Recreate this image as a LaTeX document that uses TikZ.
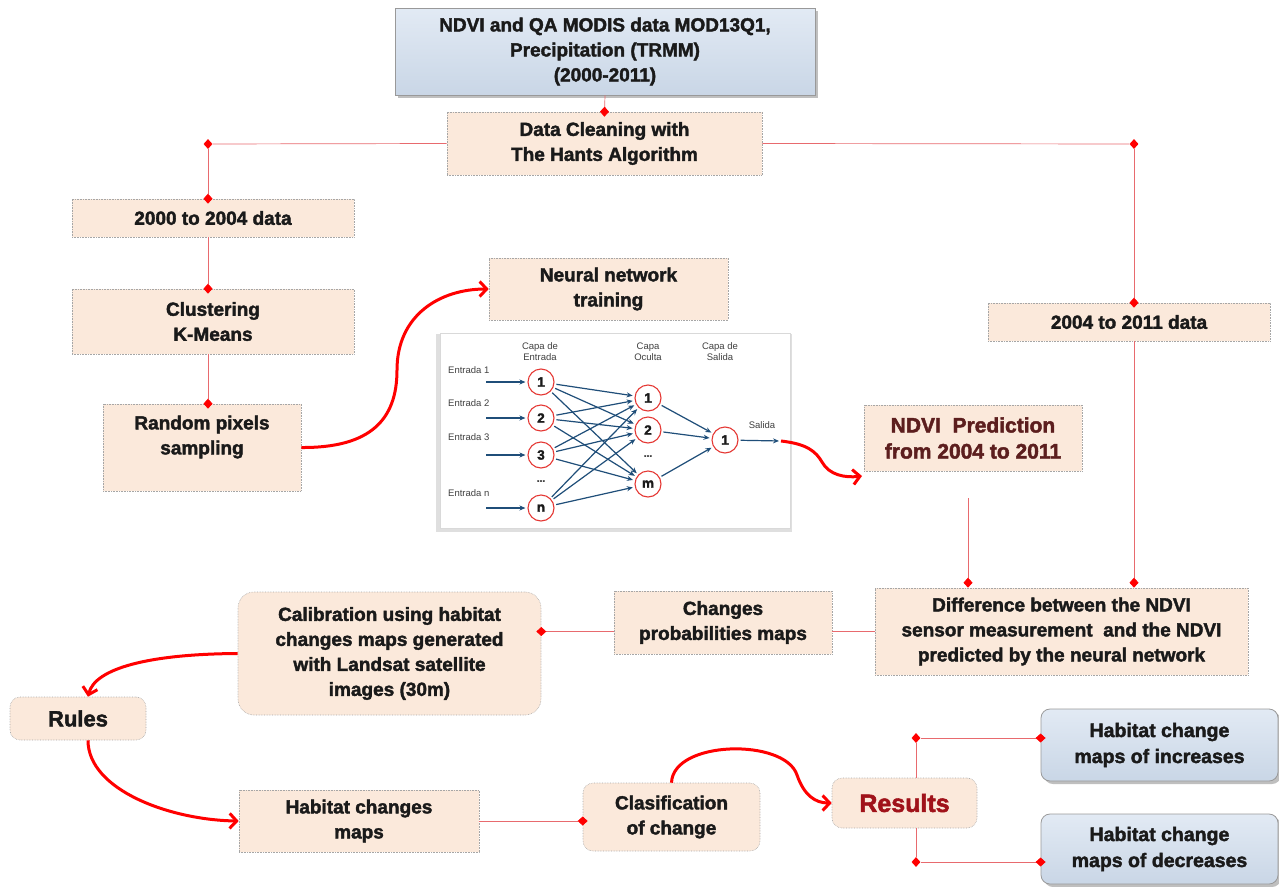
\documentclass[tikz,border=0pt]{standalone}
\usepackage{fontspec}
\setmainfont{Liberation Sans}[BoldFeatures={FakeBold=2}]
\usetikzlibrary{arrows.meta,shapes.geometric,shadows,calc}
\definecolor{peach}{HTML}{FBE9DB}
\definecolor{bluetop}{HTML}{E2EAF4}
\definecolor{bluebot}{HTML}{C9D6E6}
\definecolor{txt}{HTML}{1A1A1A}
\definecolor{nnblue}{HTML}{1F4E79}
\definecolor{conred}{HTML}{E86A6E}
\definecolor{predred}{HTML}{5C1E1E}
\definecolor{resred}{HTML}{A0121A}
\definecolor{neured}{HTML}{E53935}
\begin{document}
\begin{tikzpicture}[x=1pt,y=-1pt,
  box/.style={rectangle, fill=peach, draw=gray!70, densely dotted, line width=0.6pt, text=txt,
    align=center, inner sep=0pt, font=\bfseries\fontsize{19}{25}\selectfont},
  rbox/.style={box, rounded corners=10pt},
  topbox/.style={rectangle, top color=bluetop, bottom color=bluebot, draw=gray!80, line width=0.8pt,
    text=txt, align=center, inner sep=0pt, font=\bfseries\fontsize{19}{25}\selectfont,
    drop shadow={shadow xshift=3pt, shadow yshift=-3pt, opacity=0.5}},
  bluebox/.style={topbox, rounded corners=9pt, font=\bfseries\fontsize{19.5}{26}\selectfont},
  nnbox/.style={rectangle, fill=white, draw=gray!30, line width=0.4pt,
    drop shadow={shadow xshift=-1pt, shadow yshift=-2pt, shadow scale=1.015, opacity=0.25}},
  neur/.style={circle, draw=neured, fill=white, line width=1.1pt, minimum size=26pt, inner sep=0pt,
    text=txt, font=\bfseries\fontsize{13.5}{13.5}\selectfont},
  nnlab/.style={font=\fontsize{9.5}{11}\selectfont, text=black!75, align=center, inner sep=0pt},
  nnarr/.style={draw=nnblue, line width=1.2pt, -{Stealth[length=6pt,width=5pt]}, shorten >=2pt, shorten <=2pt},
  conn/.style={draw=conred, line width=0.7pt},
  dtip/.style={-{Diamond[length=10pt,width=9pt,color=red]}, shorten >=-5pt},
  dtipo/.style={-{Diamond[length=10pt,width=9pt,color=red]}},
  dia/.style={diamond, fill=red, inner sep=0pt, minimum width=9pt, minimum height=10pt},
  redc/.style={draw=red, line width=3pt, -{Straight Barb[length=7pt,width=15pt]}}
]
\useasboundingbox (0,0) rectangle (1279,886);

% main boxes
\node[topbox, minimum width=420pt, minimum height=87pt] (src) at (605,51.5)
  {NDVI and QA MODIS data MOD13Q1,\\Precipitation (TRMM)\\(2000-2011)};
\node[box, minimum width=315pt, minimum height=63pt] (clean) at (604.5,143.5) {Data Cleaning with\\The Hants Algorithm};
\node[box, minimum width=282pt, minimum height=38pt] (early) at (213,218) {2000 to 2004 data};
\node[box, minimum width=282pt, minimum height=65pt] (clus) at (213,321.5) {Clustering\\K-Means};
\node[box, minimum width=198pt, minimum height=87pt] (rand) at (202,447.5) {Random pixels\\sampling\\\mbox{}};
\node[box, minimum width=239pt, minimum height=62pt] (nnt) at (608.5,289) {Neural network\\training};
\node[nnbox, minimum width=350pt, minimum height=195pt] (nnimg) at (615,430.5) {};
\node[box, text=predred, font=\bfseries\fontsize{21}{26}\selectfont, minimum width=218pt, minimum height=66pt] (pred) at (973,438)
  {NDVI\ \ Prediction\\from 2004 to 2011};
\node[box, minimum width=282pt, minimum height=38pt] (late) at (1129,322) {2004 to 2011 data};
\node[box, minimum width=373pt, minimum height=87pt] (diff) at (1061.5,631.5)
  {Difference between the NDVI\\sensor measurement\ \ and the NDVI\\predicted by the neural network};
\node[box, minimum width=218pt, minimum height=63pt] (prob) at (723,622.5) {Changes\\probabilities maps};
\node[rbox, rounded corners=16pt, minimum width=303pt, minimum height=123pt] (cal) at (389.5,653.5)
  {Calibration using habitat\\changes maps generated\\with Landsat satellite\\images (30m)};
\node[rbox, font=\bfseries\fontsize{22}{26}\selectfont, minimum width=136pt, minimum height=43pt] (rules) at (78,718.5) {Rules};
\node[box, minimum width=240pt, minimum height=62pt] (hab) at (359,821) {Habitat changes\\maps};
\node[rbox, minimum width=177pt, minimum height=68pt] (clas) at (671.5,817) {Clasification\\of change};
\node[rbox, text=resred, font=\bfseries\fontsize{25}{28}\selectfont, minimum width=145pt, minimum height=50pt] (res) at (904.5,803) {Results};
\node[bluebox, minimum width=237pt, minimum height=72pt] (inc) at (1159.5,745) {Habitat change\\maps of increases};
\node[bluebox, minimum width=237pt, minimum height=70pt] (dec) at (1159.5,849) {Habitat change\\maps of decreases};

% neural network picture
\node[nnlab] (lce) at (540,352) {Capa de\\Entrada};
\node[nnlab] (lco) at (648,352) {Capa\\Oculta};
\node[nnlab] (lcs) at (720,352) {Capa de\\Salida};
\node[nnlab, anchor=west] (le1) at (448,370) {Entrada 1};
\node[nnlab, anchor=west] (le2) at (448,403) {Entrada 2};
\node[nnlab, anchor=west] (le3) at (448,437) {Entrada 3};
\node[nnlab, anchor=west] (len) at (448,493) {Entrada n};
\node[nnlab] (lsal) at (762,425) {Salida};
\node[neur] (i1) at (541,382) {1};
\node[neur] (i2) at (541,418) {2};
\node[neur] (i3) at (541,455) {3};
\node[neur] (in) at (541,508) {n};
\node[nnlab, font=\bfseries\fontsize{10}{10}\selectfont] (idots) at (541,481) {...};
\node[neur] (h1) at (648,398) {1};
\node[neur] (h2) at (648,430) {2};
\node[neur] (hm) at (648,484) {m};
\node[nnlab, font=\bfseries\fontsize{10}{10}\selectfont] (hdots) at (648,456) {...};
\node[neur] (o1) at (725,440) {1};
\coordinate (a1) at (484,382);
\coordinate (a2) at (484,418);
\coordinate (a3) at (484,455);
\coordinate (an) at (484,508);
\coordinate (sal) at (781,441);
\draw[nnarr] (a1) -- (i1);
\draw[nnarr] (a2) -- (i2);
\draw[nnarr] (a3) -- (i3);
\draw[nnarr] (an) -- (in);
\foreach \a in {i1,i2,i3,in}
  \foreach \b in {h1,h2,hm}
    \draw[nnarr] (\a) -- (\b);
\foreach \b in {h1,h2,hm}
  \draw[nnarr] (\b) -- (o1);
\draw[nnarr] (o1) -- (sal);

% junctions
\node[dia] (j1) at (208,144) {};
\node[dia] (j2) at (1134,144) {};
\node[dia] (j5) at (916,738) {};
\node[dia] (j6) at (916,862) {};
\coordinate (pg) at (968,498);
\coordinate (predin) at (862,476);

% thin connectors
\draw[conn, dtip] (src.south) -- (clean.north);
\draw[conn] (clean.west) -- (j1);
\draw[conn] (clean.east) -- (j2);
\draw[conn, dtip] (j1) -- (j1 |- early.north);
\draw[conn, dtip] (j1 |- early.south) -- (j1 |- clus.north);
\draw[conn, dtip] (j1 |- clus.south) -- (j1 |- rand.north);
\draw[conn, dtip] (j2) -- (j2 |- late.north);
\draw[conn, dtipo] (j2 |- late.south) -- (j2 |- diff.north);
\draw[conn, dtipo] (pg) -- (pg |- diff.north);
\draw[conn] (diff.west) -- (diff.west -| prob.east);
\draw[conn, dtip] (diff.west -| prob.west) -- (diff.west -| cal.east);
\draw[conn, dtip] (hab.east) -- (hab.east -| clas.west);
\draw[conn] (j5) -- (j5 |- res.north);
\draw[conn] (j5 |- res.south) -- (j6);
\draw[conn, dtip] (j5) -- (j5 -| inc.west);
\draw[conn, dtip] (j6) -- (j6 -| dec.west);

% red curved arrows
\draw[redc] (rand.east) .. controls (370,448) and (397,420) .. (397,370)
  .. controls (397,315) and (440,289) .. (nnt.west);
\draw[redc] (sal) .. controls (808,444) and (816,452) .. (822,462)
  .. controls (829,475) and (845,478) .. (predin);
\draw[redc] (cal.west) .. controls (150,654) and (95,668) .. ($(rules.north)+(10,0)$);
\draw[redc] ($(rules.south)+(10,0)$) .. controls (88,790) and (170,820) .. (hab.west);
\draw[redc] (clas.north) .. controls (673,740) and (785,738) .. (797,775)
  .. controls (804,795) and (815,803) .. (res.west);
\end{tikzpicture}
\end{document}
